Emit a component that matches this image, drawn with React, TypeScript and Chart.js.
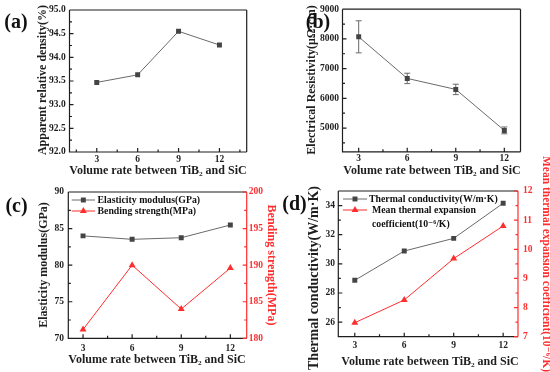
import { useEffect, useRef } from "react";
import { Chart, registerables } from "chart.js";

Chart.register(...registerables);

const SERIF = '"Liberation Serif", "Times New Roman", "DejaVu Serif", serif';
const GRAY_LINE = "#6a6a6a";
const GRAY_MARK = "#444444";
const RED = "#ff2d2d";
const AXIS = "#1e1e1e";

// ---------- shared ----------
const volumeRatios = [3, 6, 9, 12];
const xTickValues = [3, 6, 9, 12];
const xTitleText = "Volume rate between TiB₂ and SiC";

// ---------- (a) ----------
const densityValues = [93.47, 93.63, 94.55, 94.26];
const densityTicks = [92, 92.5, 93, 93.5, 94, 94.5, 95];
const densityMinor = [92.25, 92.75, 93.25, 93.75, 94.25, 94.75];
const densityTitle = "Apparent relative density(%)";

// ---------- (b) ----------
const resistivityValues = [8070, 6670, 6300, 4920];
const resistivityErrors = [540, 175, 175, 115];
const resistivityTicks = [5000, 6000, 7000, 8000, 9000];
const resistivityMinor = [4500, 5500, 6500, 7500, 8500];
const resistivityTitle = "Electrical Resistivity(μΩ·cm)";

// ---------- (c) ----------
const elasticityValues = [84.0, 83.53, 83.75, 85.49];
const bendingValues = [181.2, 190.0, 184.0, 189.6];
const elasticityTicks = [70, 75, 80, 85, 90];
const elasticityMinor = [72.5, 77.5, 82.5, 87.5];
const bendingTicks = [180, 185, 190, 195, 200];
const bendingMinor = [182.5, 187.5, 192.5, 197.5];
const elasticityTitle = "Elasticity modulus(GPa)";
const bendingTitle = "Bending strength(MPa)";
const elasticityLegend = ["Elasticity modulus(GPa)"];
const bendingLegend = ["Bending strength(MPa)"];

// ---------- (d) ----------
const conductivityValues = [28.87, 30.88, 31.75, 34.16];
const expansionValues = [7.48, 8.26, 9.68, 10.8];
const conductivityTicks = [26, 28, 30, 32, 34];
const conductivityMinor = [25, 27, 29, 31, 33, 35];
const expansionTicks = [7, 8, 9, 10, 11, 12];
const expansionMinor = [7.5, 8.5, 9.5, 10.5, 11.5];
const conductivityTitle = "Thermal conductivity(W/m·K)";
const expansionTitle = "Mean thermal expansion coefficient(10⁻⁶/K)";
const conductivityLegend = ["Thermal conductivity(W/m·K)"];
const expansionLegend = ["Mean thermal expansion", "coefficient(10⁻⁶/K)"];

type AxisSpec = {
  min: number; max: number; ticks: number[]; minor: number[]; digits: number;
  color: string; pad: number; title: string; titleX: number; titleY: number; titleSize: number;
};
type LegendRow = { y: number; textX: number; lineGap: number; lines: string[] };
type SeriesSpec = {
  values: number[]; axis: "y" | "y2"; style: "rect" | "triangle"; color: string;
  lineColor: string; radius: number; errors?: number[]; legend?: LegendRow;
};
type PanelSpec = {
  label: string; labelX: number; labelY: number;
  box: { l: number; r: number; t: number; b: number };
  xMin: number; xMax: number; xMinor: number[]; xPad: number; xTitleX: number; xTitleY: number;
  left: AxisSpec; right?: AxisSpec; series: SeriesSpec[];
  legendX0?: number; legendX1?: number;
};

const panels: PanelSpec[] = [
  {
    label: "(a)", labelX: 16, labelY: 23,
    box: { l: 69.5, r: 246.7, t: 10, b: 152 },
    xMin: 1, xMax: 14, xMinor: [1.5, 4.5, 7.5, 10.5, 13.5], xPad: 2.3, xTitleX: 158, xTitleY: 170.5,
    left: { min: 92, max: 95, ticks: densityTicks, minor: densityMinor, digits: 1, color: AXIS, pad: 3.8,
      title: densityTitle, titleX: 42.5, titleY: 80, titleSize: 12 },
    series: [{ values: densityValues, axis: "y", style: "rect", color: GRAY_MARK, lineColor: GRAY_LINE, radius: 3.5 }],
  },
  {
    label: "(b)", labelX: 318, labelY: 23,
    box: { l: 342.5, r: 520.5, t: 8, b: 151.8 },
    xMin: 2, xMax: 13, xMinor: [4.5, 7.5, 10.5], xPad: 1, xTitleX: 432, xTitleY: 170.7,
    left: { min: 4200, max: 9000, ticks: resistivityTicks, minor: resistivityMinor, digits: 0, color: AXIS, pad: 3.5,
      title: resistivityTitle, titleX: 311.5, titleY: 80, titleSize: 12 },
    series: [{ values: resistivityValues, axis: "y", style: "rect", color: GRAY_MARK, lineColor: GRAY_LINE, radius: 3.5, errors: resistivityErrors }],
  },
  {
    label: "(c)", labelX: 16.5, labelY: 206.5,
    box: { l: 68.3, r: 246.7, t: 192, b: 338.3 },
    xMin: 2.1, xMax: 13, xMinor: [4.5, 7.5, 10.5], xPad: 5, xTitleX: 157, xTitleY: 360,
    left: { min: 70, max: 90, ticks: elasticityTicks, minor: elasticityMinor, digits: 0, color: AXIS, pad: 4.3,
      title: elasticityTitle, titleX: 44, titleY: 265, titleSize: 12 },
    right: { min: 180, max: 200, ticks: bendingTicks, minor: bendingMinor, digits: 0, color: RED, pad: 2,
      title: bendingTitle, titleX: 271, titleY: 265, titleSize: 12 },
    legendX0: 71.7, legendX1: 95,
    series: [
      { values: elasticityValues, axis: "y", style: "rect", color: GRAY_MARK, lineColor: GRAY_LINE, radius: 3.5,
        legend: { y: 200, textX: 97.5, lineGap: 0, lines: elasticityLegend } },
      { values: bendingValues, axis: "y2", style: "triangle", color: RED, lineColor: RED, radius: 4,
        legend: { y: 211, textX: 97.5, lineGap: 0, lines: bendingLegend } },
    ],
  },
  {
    label: "(d)", labelX: 294.5, labelY: 205,
    box: { l: 338.3, r: 518, t: 191, b: 336.7 },
    xMin: 2, xMax: 12.9, xMinor: [4.5, 7.5, 10.5], xPad: 3.6, xTitleX: 430, xTitleY: 361.7,
    left: { min: 25, max: 35, ticks: conductivityTicks, minor: conductivityMinor, digits: 0, color: AXIS, pad: 3.3,
      title: conductivityTitle, titleX: 314, titleY: 278, titleSize: 14 },
    right: { min: 7, max: 12, ticks: expansionTicks, minor: expansionMinor, digits: 0, color: RED, pad: 5,
      title: expansionTitle, titleX: 546, titleY: 264, titleSize: 11.5 },
    legendX0: 343, legendX1: 367,
    series: [
      { values: conductivityValues, axis: "y", style: "rect", color: GRAY_MARK, lineColor: GRAY_LINE, radius: 3.5,
        legend: { y: 199, textX: 369, lineGap: 0, lines: conductivityLegend } },
      { values: expansionValues, axis: "y2", style: "triangle", color: RED, lineColor: RED, radius: 4,
        legend: { y: 210, textX: 372, lineGap: 14, lines: expansionLegend } },
    ],
  },
];

const W = 550;
const H = 372;
const Y_W = 40;
const X_H = 30;

function drawMarker(ctx: CanvasRenderingContext2D, style: string, x: number, y: number, r: number, color: string) {
  ctx.save();
  ctx.fillStyle = color;
  ctx.beginPath();
  if (style === "rect") {
    const s = Math.SQRT1_2 * r;
    ctx.rect(x - s, y - s, 2 * s, 2 * s);
  } else {
    let rad = 0;
    ctx.moveTo(x + Math.sin(rad) * r, y - Math.cos(rad) * r);
    rad += (2 * Math.PI) / 3;
    ctx.lineTo(x + Math.sin(rad) * r, y - Math.cos(rad) * r);
    rad += (2 * Math.PI) / 3;
    ctx.lineTo(x + Math.sin(rad) * r, y - Math.cos(rad) * r);
    ctx.closePath();
  }
  ctx.fill();
  ctx.restore();
}

function drawText(ctx: CanvasRenderingContext2D, text: string, x: number, y: number, rot: number, size: number, color: string, align: CanvasTextAlign = "center") {
  ctx.save();
  ctx.translate(x, y);
  ctx.rotate(rot);
  ctx.font = `bold ${size}px ${SERIF}`;
  ctx.fillStyle = color;
  ctx.textAlign = align;
  ctx.textBaseline = "middle";
  ctx.fillText(text, 0, 0);
  ctx.restore();
}

function buildConfig(p: PanelSpec): any {
  const tickFont = { family: SERIF, size: 9.5, weight: "bold" as const };
  const makeY = (a: AxisSpec, position: "left" | "right") => ({
    type: "linear",
    position,
    min: a.min,
    max: a.max,
    afterBuildTicks: (s: any) => { s.ticks = a.ticks.map((v) => ({ value: v })); },
    afterFit: (s: any) => { s.width = Y_W; },
    grid: { display: false, drawTicks: false },
    border: { display: false },
    ticks: { font: tickFont, color: a.color, padding: a.pad, autoSkip: false,
      callback: (v: any) => Number(v).toFixed(a.digits) },
  });

  const scales: any = {
    x: {
      type: "linear", position: "bottom", min: p.xMin, max: p.xMax,
      afterBuildTicks: (s: any) => { s.ticks = xTickValues.map((v) => ({ value: v })); },
      afterFit: (s: any) => { s.height = X_H; },
      grid: { display: false, drawTicks: false },
      border: { display: false },
      ticks: { font: tickFont, color: AXIS, padding: p.xPad, autoSkip: false, maxRotation: 0,
        callback: (v: any) => String(v) },
    },
    y: makeY(p.left, "left"),
  };
  if (p.right) scales.y2 = makeY(p.right, "right");

  const decor = {
    id: "decor",
    beforeDatasetsDraw(chart: any) {
      const { ctx, chartArea: a } = chart;
      const xs = chart.scales.x;
      const ys = chart.scales.y;
      ctx.save();
      ctx.lineWidth = 1.2;
      ctx.strokeStyle = AXIS;
      ctx.beginPath();
      ctx.moveTo(a.left, a.top);
      ctx.lineTo(a.right, a.top);
      ctx.moveTo(a.left, a.top);
      ctx.lineTo(a.left, a.bottom);
      ctx.lineTo(a.right, a.bottom);
      if (!p.right) {
        ctx.moveTo(a.right, a.top);
        ctx.lineTo(a.right, a.bottom);
      }
      for (const v of xTickValues) {
        const px = xs.getPixelForValue(v);
        ctx.moveTo(px, a.bottom);
        ctx.lineTo(px, a.bottom - 4);
      }
      for (const v of p.xMinor) {
        const px = xs.getPixelForValue(v);
        ctx.moveTo(px, a.bottom);
        ctx.lineTo(px, a.bottom - 2.5);
      }
      for (const v of p.left.ticks) {
        const py = ys.getPixelForValue(v);
        ctx.moveTo(a.left, py);
        ctx.lineTo(a.left + 4, py);
      }
      for (const v of p.left.minor) {
        const py = ys.getPixelForValue(v);
        ctx.moveTo(a.left, py);
        ctx.lineTo(a.left + 2.5, py);
      }
      ctx.stroke();
      if (p.right) {
        const y2 = chart.scales.y2;
        ctx.strokeStyle = p.right.color;
        ctx.beginPath();
        ctx.moveTo(a.right, a.top);
        ctx.lineTo(a.right, a.bottom);
        for (const v of p.right.ticks) {
          const py = y2.getPixelForValue(v);
          ctx.moveTo(a.right, py);
          ctx.lineTo(a.right - 4, py);
        }
        for (const v of p.right.minor) {
          const py = y2.getPixelForValue(v);
          ctx.moveTo(a.right, py);
          ctx.lineTo(a.right - 2.5, py);
        }
        ctx.stroke();
      }
      p.series.forEach((s) => {
        if (!s.errors) return;
        const sc = chart.scales[s.axis];
        ctx.strokeStyle = s.lineColor;
        ctx.lineWidth = 1;
        ctx.beginPath();
        volumeRatios.forEach((xv, i) => {
          const px = xs.getPixelForValue(xv);
          const top = sc.getPixelForValue(s.values[i] + s.errors![i]);
          const bot = sc.getPixelForValue(s.values[i] - s.errors![i]);
          ctx.moveTo(px, top);
          ctx.lineTo(px, bot);
          ctx.moveTo(px - 3, top);
          ctx.lineTo(px + 3, top);
          ctx.moveTo(px - 3, bot);
          ctx.lineTo(px + 3, bot);
        });
        ctx.stroke();
      });
      ctx.restore();
    },
    afterDraw(chart: any) {
      const { ctx } = chart;
      drawText(ctx, p.left.title, p.left.titleX, p.left.titleY, -Math.PI / 2, p.left.titleSize, AXIS);
      if (p.right) drawText(ctx, p.right.title, p.right.titleX, p.right.titleY, Math.PI / 2, p.right.titleSize, p.right.color);
      drawText(ctx, xTitleText, p.xTitleX, p.xTitleY, 0, 12, AXIS);
      drawText(ctx, p.label, p.labelX, p.labelY, 0, 20, "#111");
      if (p.legendX0 !== undefined && p.legendX1 !== undefined) {
        p.series.forEach((s) => {
          if (!s.legend) return;
          const L = s.legend;
          ctx.save();
          ctx.strokeStyle = s.lineColor;
          ctx.lineWidth = 1;
          ctx.beginPath();
          ctx.moveTo(p.legendX0!, L.y);
          ctx.lineTo(p.legendX1!, L.y);
          ctx.stroke();
          ctx.restore();
          drawMarker(ctx, s.style, (p.legendX0! + p.legendX1!) / 2, L.y, s.radius, s.color);
          L.lines.forEach((t, k) => {
            drawText(ctx, t, L.textX, L.y + k * L.lineGap, 0, 9.8, "#111", "left");
          });
        });
      }
    },
  };

  return {
    type: "line",
    data: {
      datasets: p.series.map((s) => ({
        data: volumeRatios.map((x, i) => ({ x, y: s.values[i] })),
        yAxisID: s.axis,
        borderColor: s.lineColor,
        borderWidth: 1,
        pointStyle: s.style,
        pointRadius: s.radius,
        pointBackgroundColor: s.color,
        pointBorderColor: s.color,
        pointBorderWidth: 0,
        fill: false,
        tension: 0,
      })),
    },
    options: {
      responsive: false,
      animation: false,
      events: [],
      layout: {
        padding: {
          left: p.box.l - Y_W,
          top: p.box.t,
          right: W - p.box.r - (p.right ? Y_W : 0),
          bottom: H - p.box.b - X_H,
        },
      },
      plugins: { legend: { display: false }, tooltip: { enabled: false } },
      scales,
    },
    plugins: [decor],
  };
}

function PanelChart({ spec }: { spec: PanelSpec }) {
  const ref = useRef<HTMLCanvasElement>(null);
  useEffect(() => {
    const chart = new Chart(ref.current as HTMLCanvasElement, buildConfig(spec));
    return () => chart.destroy();
  }, [spec]);
  return (
    <canvas
      ref={ref}
      width={W}
      height={H}
      style={{ position: "absolute", left: 0, top: 0, width: W, height: H }}
    />
  );
}

export default function App() {
  return (
    <div style={{ position: "absolute", left: 0, top: 0, width: W, height: H, background: "#fff", overflow: "hidden" }}>
      {panels.map((p, i) => (
        <PanelChart key={i} spec={p} />
      ))}
    </div>
  );
}
